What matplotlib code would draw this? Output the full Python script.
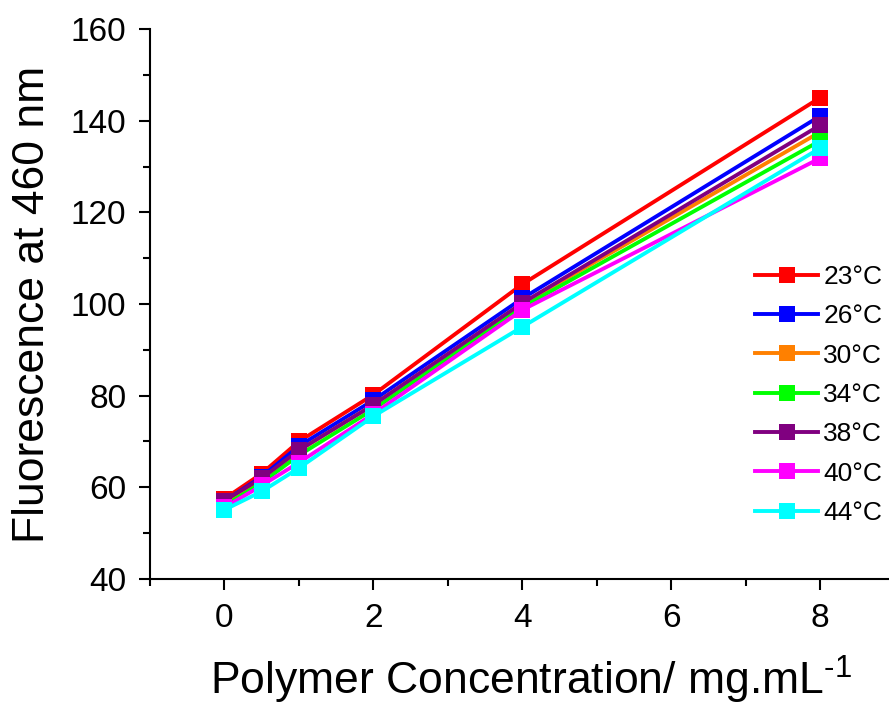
import matplotlib
matplotlib.use("Agg")
import matplotlib.pyplot as plt
from matplotlib.ticker import MultipleLocator

plt.rcParams['font.family'] = ['Liberation Sans', 'DejaVu Sans']
plt.rcParams['mathtext.fontset'] = 'custom'
plt.rcParams['mathtext.rm'] = 'Liberation Sans'
plt.rcParams['mathtext.it'] = 'Liberation Sans'

conc = [0, 0.5, 1, 2, 4, 8]
labels = ['23\u00b0C', '26\u00b0C', '30\u00b0C', '34\u00b0C', '38\u00b0C', '40\u00b0C', '44\u00b0C']
t23 = [57.5, 63.0, 70.0, 80.2, 104.3, 145.0]
t26 = [57.0, 62.3, 69.0, 79.0, 101.2, 141.0]
t30 = [56.5, 61.5, 68.0, 78.0, 100.0, 137.5]
t34 = [56.0, 61.0, 67.0, 77.0, 99.3, 135.6]
t38 = [57.1, 62.0, 68.1, 78.0, 100.2, 139.0]
t40 = [55.6, 60.4, 65.4, 76.0, 98.7, 131.8]
t44 = [55.1, 59.1, 64.2, 75.5, 95.0, 134.0]
series = [t23, t26, t30, t34, t38, t40, t44]
colors = ['#FF0000', '#0000FF', '#FF8000', '#00FF00', '#800080', '#FF00FF', '#00FFFF']

W, H = 889, 705
fig = plt.figure(figsize=(W / 100, H / 100), dpi=100)
ax = fig.add_axes([150 / W, 1 - 579 / H, (W - 150) / W, (579 - 29) / H])

for y, c, lab in zip(series, colors, labels):
    ax.plot(conc, y, color=c, lw=2.8, marker='s', markersize=11.5,
            markeredgewidth=0, label=lab, clip_on=False)

ax.set_xlim(-1, (W - 224) / 74.5)
ax.set_ylim(40, 160)
ax.xaxis.set_major_locator(MultipleLocator(2))
ax.xaxis.set_minor_locator(MultipleLocator(1))
ax.yaxis.set_major_locator(MultipleLocator(20))
ax.yaxis.set_minor_locator(MultipleLocator(10))

for s in ['top', 'right']:
    ax.spines[s].set_visible(False)
for s in ['left', 'bottom']:
    ax.spines[s].set_linewidth(1.5)

ax.tick_params(which='major', direction='out', length=8, width=1.5, labelsize=24, pad=9)
ax.tick_params(which='minor', direction='out', length=5, width=1.5)

ax.set_xlabel('Polymer Concentration/ mg.mL$^{\\text{-1}}$', fontsize=32)
ax.xaxis.set_label_coords((531 - 150) / (W - 150), -(680 - 579) / (579 - 29), transform=ax.transAxes)
ax.xaxis.label.set_va('center')
ax.set_ylabel('Fluorescence at 460 nm', fontsize=32, labelpad=13)

leg = ax.legend(loc='upper left', bbox_to_anchor=(755 / W, 1 - 265 / H),
                bbox_transform=fig.transFigure, frameon=False, fontsize=19,
                borderpad=0, borderaxespad=0, handlelength=2.39, handletextpad=0.2,
                labelspacing=0.58, markerscale=0.95)

fig.savefig('out.png', dpi=100)
